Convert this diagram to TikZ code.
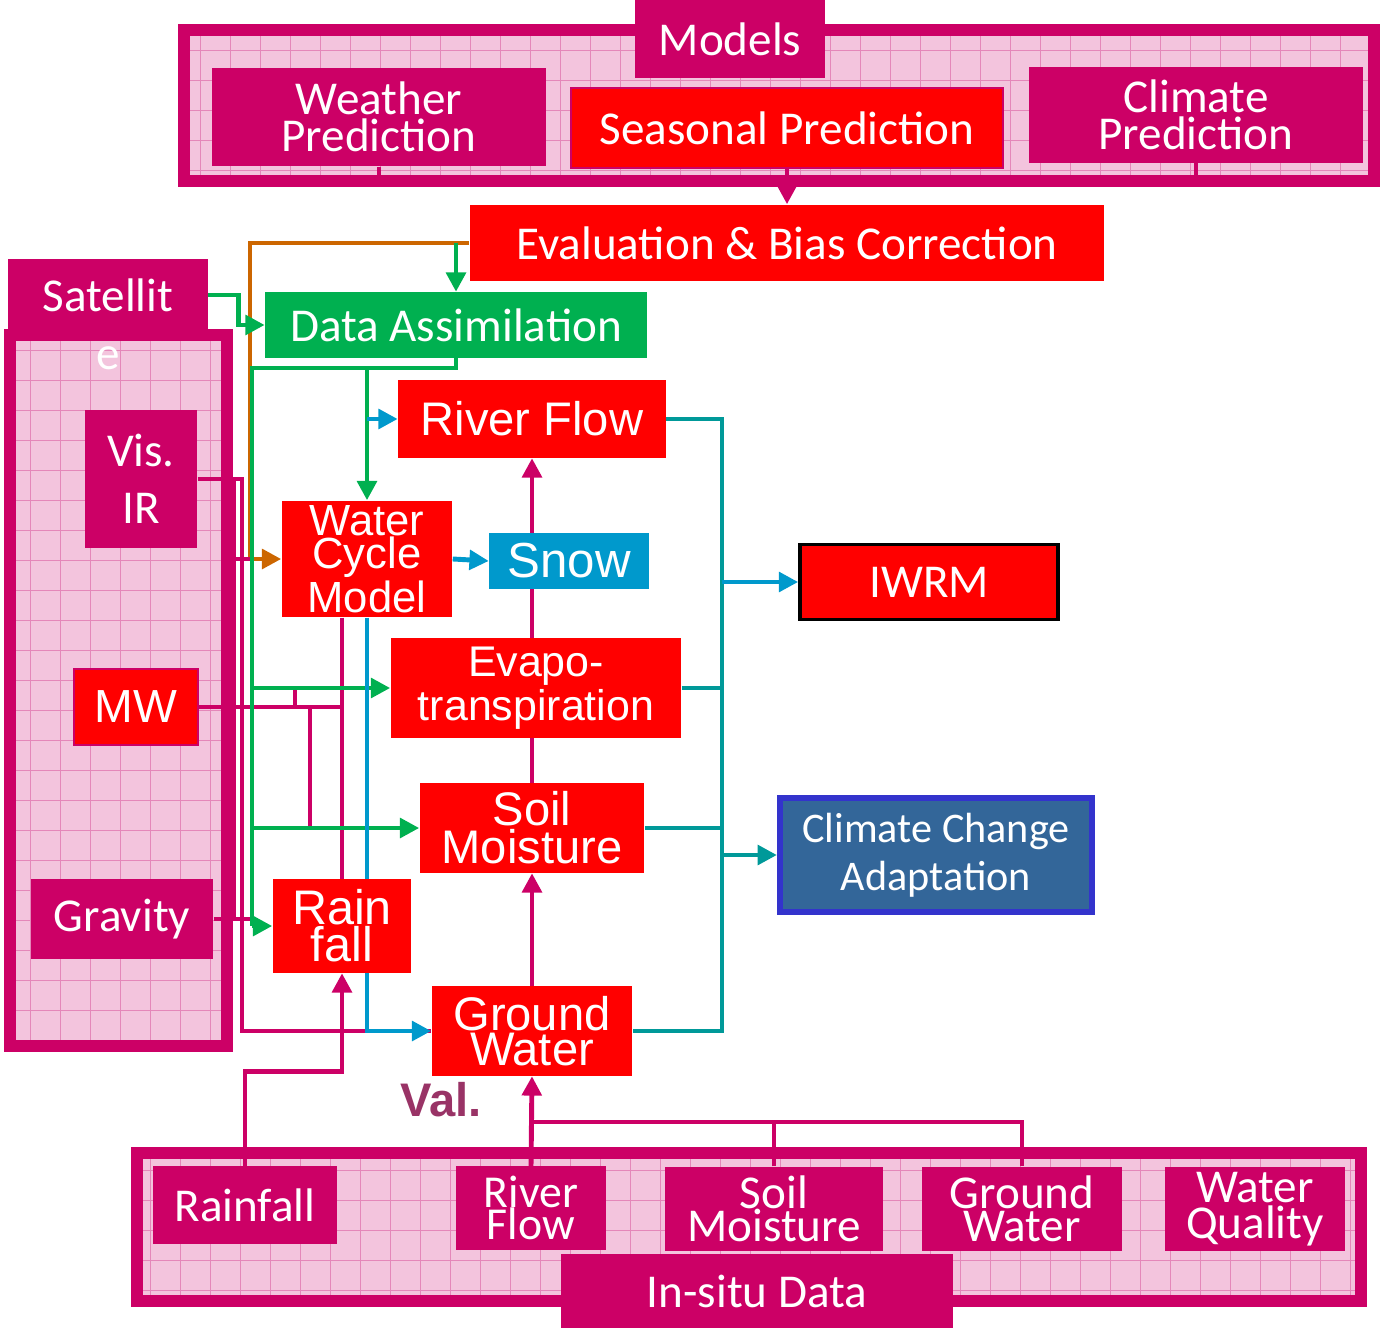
\documentclass[tikz,border=0pt]{standalone}
\usepackage{fontspec}
\setmainfont{Carlito}
\newfontfamily\arialfont{Liberation Sans}
\usetikzlibrary{arrows.meta}
\definecolor{magentaC}{RGB}{204,0,102}
\definecolor{redC}{RGB}{255,0,0}
\definecolor{greenC}{RGB}{0,176,80}
\definecolor{blueC}{RGB}{0,153,204}
\definecolor{tealC}{RGB}{0,153,153}
\definecolor{orangeC}{RGB}{204,102,0}
\definecolor{steelC}{RGB}{51,102,153}
\definecolor{borderC}{RGB}{51,51,204}
\definecolor{valC}{RGB}{153,51,102}
\definecolor{pinkfill}{RGB}{243,196,221}
\definecolor{pinkline}{RGB}{228,135,185}
\pgfdeclarelayer{back}
\pgfdeclarelayer{wires}
\pgfsetlayers{back,wires,main}

\begin{document}
\begin{tikzpicture}[x=0.01cm, y=-0.01cm,
    box/.style={inner sep=0pt, text=white, align=center, font=\fontsize{13.4}{11}\selectfont},
    pinkbox/.style={box, fill=magentaC},
    redbox/.style={box, fill=redC},
    arialbox/.style={box, fill=redC, font=\arialfont\fontsize{13.4}{10}\selectfont},
    link/.style={line width=1.4pt},
    thinlink/.style={line width=1.1pt},
    arr/.style={-{Triangle[length=5.5pt,width=5.5pt]}}]
	\useasboundingbox (0,0) rectangle (1383,1328);

	% Models panel
	\node[pinkbox, minimum width=1.89cm, minimum height=0.78cm] (models) at (730,39) {Models};
	\node[pinkbox, minimum width=3.34cm, minimum height=0.98cm, font=\fontsize{13.4}{10.5}\selectfont] (weather) at (379,117) {Weather\\Prediction};
	\node[redbox, draw=magentaC, thin, minimum width=4.32cm, minimum height=0.80cm] (seasonal) at (787,128) {Seasonal Prediction};
	\node[pinkbox, minimum width=3.34cm, minimum height=0.95cm, font=\fontsize{13.4}{10.5}\selectfont] (climate) at (1196,115) {Climate\\Prediction};

	\node[redbox, minimum width=6.34cm, minimum height=0.76cm] (eval) at (787,243) {Evaluation \& Bias Correction};
	\node[box, fill=greenC, minimum width=3.81cm, minimum height=0.65cm] (assim) at (456,325) {Data Assimilation};

	% Satellite panel
	\node[pinkbox, minimum width=1.99cm, minimum height=0.72cm] (sat) at (108,295) {Satellit};
	\node[box] (satE) at (108,358) {e};
	\node[pinkbox, minimum width=1.12cm, minimum height=1.38cm, font=\fontsize{13.4}{16.2}\selectfont] (visir) at (141,479) {Vis.\\IR};
	\node[redbox, draw=magentaC, line width=0.8pt, font=\arialfont\fontsize{13.2}{11}\selectfont, minimum width=1.24cm, minimum height=0.76cm] (mw) at (136,707) {MW};
	\node[pinkbox, minimum width=1.82cm, minimum height=0.80cm] (gravity) at (122,919) {Gravity};

	% water cycle components
	\node[arialbox, minimum width=2.67cm, minimum height=0.77cm] (rflow) at (532,419) {River Flow};
	\node[arialbox, minimum width=1.70cm, minimum height=1.16cm, font=\arialfont\fontsize{12.4}{9.4}\selectfont] (wcm) at (367,559) {Water\\Cycle\\Model};
	\node[arialbox, fill=blueC, minimum width=1.59cm, minimum height=0.56cm, font=\arialfont\fontsize{14}{11}\selectfont] (snow) at (569,561) {Snow};
	\node[arialbox, minimum width=2.90cm, minimum height=1.00cm, font=\arialfont\fontsize{12.2}{11.3}\selectfont] (evapo) at (536,688) {Evapo-\\transpiration};
	\node[arialbox, minimum width=2.24cm, minimum height=0.89cm, font=\arialfont\fontsize{13.4}{9.8}\selectfont] (soil) at (532,828) {Soil\\Moisture};
	\node[arialbox, minimum width=1.38cm, minimum height=0.93cm, font=\arialfont\fontsize{13.8}{10.6}\selectfont] (rain) at (342,926) {Rain\\fall};
	\node[arialbox, minimum width=2.00cm, minimum height=0.89cm] (ground) at (532,1031) {Ground\\Water};

	% applications
	\node[redbox, draw=black, line width=1pt, minimum width=2.58cm, minimum height=0.75cm] (iwrm) at (929,582) {IWRM};
	\node[box, fill=steelC, draw=borderC, line width=1.7pt, minimum width=3.12cm, minimum height=1.13cm, font=\fontsize{12}{13.6}\selectfont] (cca) at (936,855) {Climate Change\\Adaptation};

	\node[inner sep=0pt, text=valC, font=\arialfont\bfseries\fontsize{13.4}{11}\selectfont] (val) at (441,1100) {Val.};

	% In-situ panel
	\node[pinkbox, minimum width=1.83cm, minimum height=0.77cm] (rainD) at (245,1205) {Rainfall};
	\node[pinkbox, minimum width=1.50cm, minimum height=0.83cm, font=\fontsize{13}{9.2}\selectfont] (riverD) at (531,1208) {River\\Flow};
	\node[pinkbox, minimum width=2.17cm, minimum height=0.84cm, font=\fontsize{13.4}{9.4}\selectfont] (soilD) at (774,1209) {Soil\\Moisture};
	\node[pinkbox, minimum width=1.99cm, minimum height=0.84cm, font=\fontsize{13.4}{9.4}\selectfont] (groundD) at (1022,1209) {Ground\\Water};
	\node[pinkbox, minimum width=1.80cm, minimum height=0.84cm, font=\fontsize{13.4}{9.4}\selectfont] (qualityD) at (1255,1209) {Water\\Quality};
	\node[pinkbox, minimum width=3.92cm, minimum height=0.73cm] (insitu) at (757,1291) {In-situ Data};

	% bus positions
	\coordinate (mbase) at (0,181);
	\coordinate (obus) at (250,0);
	\coordinate (gbus) at (252,368);
	\coordinate (sbus) at (242,0);
	\coordinate (sbusB) at (234,0);
	\coordinate (etap) at (295,0);
	\coordinate (stap) at (310,0);
	\coordinate (tbus) at (722,0);
	\coordinate (vbus) at (531,1122);

	% pink panels
	\begin{pgfonlayer}{back}
		\fill[pinkfill] (184,30) rectangle (1374,181);
		\foreach \gx in {200,230,...,1360}
		\draw[pinkline, line width=0.25pt] (\gx,36) -- (\gx,175);
		\foreach \gy in {50,80,...,170}
		\draw[pinkline, line width=0.25pt] (190,\gy) -- (1368,\gy);
		\draw[magentaC, line width=3.4pt] (184,30) rectangle (1374,181);

		\fill[pinkfill] (10,335) rectangle (227,1046);
		\foreach \gx in {30,60,...,210}
		\draw[pinkline, line width=0.25pt] (\gx,341) -- (\gx,1040);
		\foreach \gy in {350,380,...,1030}
		\draw[pinkline, line width=0.25pt] (16,\gy) -- (221,\gy);
		\draw[magentaC, line width=3.4pt] (10,335) rectangle (227,1046);

		\fill[pinkfill] (137,1153) rectangle (1361,1301);
		\foreach \gx in {150,180,...,1350}
		\draw[pinkline, line width=0.25pt] (\gx,1159) -- (\gx,1295);
		\foreach \gy in {1170,1200,...,1290}
		\draw[pinkline, line width=0.25pt] (143,\gy) -- (1355,\gy);
		\draw[magentaC, line width=3.4pt] (137,1153) rectangle (1361,1301);
	\end{pgfonlayer}

	\begin{pgfonlayer}{wires}
		% models to evaluation
		\draw[link, magentaC] (weather.south) |- (mbase -| climate.south) -- (climate.south);
		\draw[link, magentaC, arr] (seasonal.south) -- (eval.north);

		% evaluation feedback
		\draw[link, orangeC, arr] (eval.west) -| (obus |- wcm.west) -- (wcm.west);
		\draw[link, greenC, arr] (assim.north |- eval.west) -- (assim.north);
		\draw[link, greenC, arr] (sat.east) -- ++(30,0) |- (assim.west);

		% sensors
		\draw[thinlink, magentaC] (visir.east) -| (sbus |- ground.west) -- (ground.west);
		\draw[thinlink, magentaC] (visir.east -| sbusB) -- (sbusB |- gravity.east);
		\draw[thinlink, magentaC] (sbusB |- wcm.west) -- (obus |- wcm.west);
		\draw[thinlink, magentaC] (gravity.east) -- (gravity.east -| gbus);
		\draw[thinlink, magentaC] (mw.east) -- (mw.east -| rain.north);
		\draw[thinlink, magentaC] (wcm.south -| rain.north) -- (rain.north);
		\draw[thinlink, magentaC] (etap |- evapo.west) -- (etap |- mw.east);
		\draw[thinlink, magentaC] (stap |- mw.east) -- (stap |- soil.west);

		% assimilation outputs
		\draw[link, greenC] (assim.south) |- (gbus) -- (gbus |- rain.west);
		\draw[link, greenC, arr] (gbus |- rain.west) -- (rain.west);
		\draw[link, greenC, arr] (gbus |- evapo.west) -- (evapo.west);
		\draw[link, greenC, arr] (gbus |- soil.west) -- (soil.west);
		\draw[link, greenC, arr] (wcm.north |- gbus) -- (wcm.north);
		\draw[link, blueC, arr] (wcm.north |- rflow.west) -- (rflow.west);

		% model outputs
		\draw[link, blueC, arr] (wcm.east) -- (snow.west);
		\draw[link, blueC, arr] (wcm.south) |- (ground.west);
		\draw[link, magentaC, arr] (ground.north) -- (soil.south);
		\draw[link, magentaC, arr] (soil.north) -- (rflow.south);

		% to applications
		\draw[link, tealC] (rflow.east) -| (tbus |- ground.east) -- (ground.east);
		\draw[link, tealC] (evapo.east) -- (evapo.east -| tbus);
		\draw[link, tealC] (soil.east) -- (soil.east -| tbus);
		\draw[link, blueC, arr] (tbus |- iwrm.west) -- (iwrm.west);
		\draw[link, tealC, arr] (tbus |- cca.west) -- (cca.west);

		% validation
		\draw[link, magentaC, arr] (rainD.north) -- ++(0,-94) -| (rain.south);
		\draw[link, magentaC, arr] (riverD.north) -- (ground.south);
		\draw[link, magentaC] (groundD.north) |- (vbus);
		\draw[link, magentaC] (soilD.north) -- (soilD.north |- vbus);
	\end{pgfonlayer}
\end{tikzpicture}
\end{document}
